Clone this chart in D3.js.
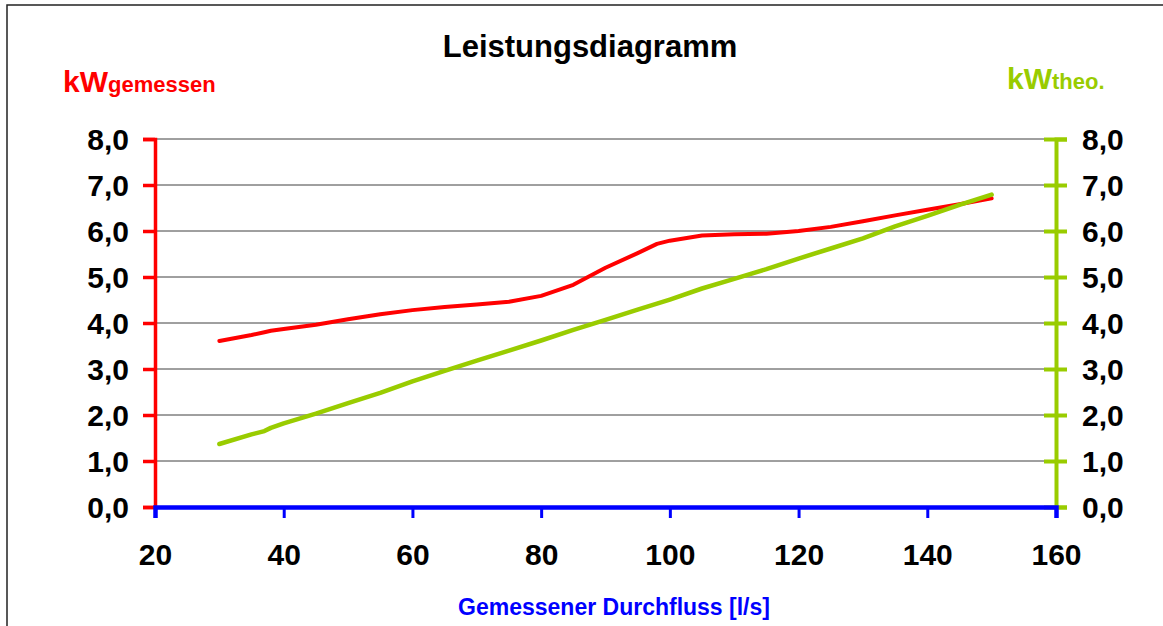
<!DOCTYPE html>
<html>
<head>
<meta charset="utf-8">
<script src="https://cdn.jsdelivr.net/npm/d3@7"></script>
<style>
  body { margin: 0; background: #fff; }
  text { font-family: "Liberation Sans", Arial, sans-serif; font-weight: bold; }
</style>
</head>
<body>
<script>
// Durchfluss in l/s
var durchfluss = [30, 35, 37, 38, 40, 45, 50, 55, 60, 65, 70, 75, 80, 85, 90, 95, 98, 100, 105, 110, 115, 120, 125, 130, 135, 140, 145, 150];
// kW gemessen (rot)
var kwGemessen = [3.61, 3.74, 3.80, 3.83, 3.87, 3.96, 4.08, 4.19, 4.28, 4.35, 4.40, 4.46, 4.59, 4.83, 5.20, 5.52, 5.72, 5.79, 5.90, 5.93, 5.94, 6.00, 6.09, 6.21, 6.34, 6.46, 6.58, 6.71];
// kW theoretisch (gruen)
var kwTheo = [1.37, 1.58, 1.65, 1.72, 1.82, 2.03, 2.26, 2.48, 2.73, 2.96, 3.18, 3.40, 3.62, 3.85, 4.07, 4.29, 4.42, 4.51, 4.75, 4.96, 5.17, 5.40, 5.62, 5.84, 6.10, 6.33, 6.57, 6.79];
var xTicks = [20, 40, 60, 80, 100, 120, 140, 160];
var yTicks = [0, 1, 2, 3, 4, 5, 6, 7, 8];

var width = 1163, height = 626;
var rot = "#ff0000", gruen = "#99cc00", blau = "#0000ff";

var svg = d3.select("body").append("svg")
	.attr("width", width)
	.attr("height", height);

// Rahmen
svg.append("rect")
	.attr("x", 7).attr("y", 5)
	.attr("width", 1200).attr("height", 700)
	.attr("fill", "none").attr("stroke", "#222").attr("stroke-width", 1.5);

var x = d3.scaleLinear().domain([20, 160]).range([155, 1056]);
var yL = d3.scaleLinear().domain([0, 8]).range([507, 139]);
var yR = d3.scaleLinear().domain([0, 8]).range([507, 139]);

var fmt = function(d) { return d3.format(".1f")(d).replace(".", ","); };

// Gitterlinien
svg.append("g").selectAll("line")
	.data(yTicks.slice(1))
	.join("line")
	.attr("x1", x(20)).attr("x2", x(160))
	.attr("y1", d => yL(d)).attr("y2", d => yL(d))
	.attr("stroke", "#404040").attr("stroke-width", 1);

// linke Achse (rot)
var axL = svg.append("g")
	.attr("transform", "translate(" + x(20) + ",0)")
	.call(d3.axisLeft(yL).tickValues(yTicks).tickFormat(fmt).tickSize(12).tickPadding(14));
axL.select(".domain").attr("stroke", rot).attr("stroke-width", 3.5);
axL.selectAll(".tick line").attr("stroke", rot).attr("stroke-width", 3.5);
axL.selectAll(".tick text").attr("fill", "#000").style("font-size", "30px").attr("dy", "0.36em");

// rechte Achse (gruen), Teilstriche kreuzen die Achse
var axR = svg.append("g")
	.attr("transform", "translate(" + x(160) + ",0)")
	.call(d3.axisRight(yR).tickValues(yTicks).tickFormat(fmt).tickSize(11).tickPadding(15));
axR.select(".domain").attr("stroke", gruen).attr("stroke-width", 4);
axR.selectAll(".tick line").attr("x1", -12).attr("stroke", gruen).attr("stroke-width", 4);
axR.selectAll(".tick text").attr("fill", "#000").style("font-size", "30px").attr("dy", "0.36em");

// x-Achse (blau)
var axX = svg.append("g")
	.attr("transform", "translate(0," + yL(0) + ")")
	.call(d3.axisBottom(x).tickValues(xTicks).tickFormat(d3.format("d")).tickSize(11).tickPadding(26));
axX.select(".domain").attr("stroke", blau).attr("stroke-width", 4.5);
axX.selectAll(".tick line").attr("stroke", blau).attr("stroke-width", 3);
axX.selectAll(".tick text").attr("fill", "#000").style("font-size", "30px");

// Linien
var lineL = d3.line().x((d, i) => x(durchfluss[i])).y(d => yL(d));
var lineR = d3.line().x((d, i) => x(durchfluss[i])).y(d => yR(d));

svg.append("path").datum(kwGemessen)
	.attr("d", lineL)
	.attr("fill", "none").attr("stroke", rot).attr("stroke-width", 4)
	.attr("stroke-linejoin", "round").attr("stroke-linecap", "round");

svg.append("path").datum(kwTheo)
	.attr("d", lineR)
	.attr("fill", "none").attr("stroke", gruen).attr("stroke-width", 4.5)
	.attr("stroke-linejoin", "round").attr("stroke-linecap", "round");

// Titel
svg.append("text")
	.attr("x", 590).attr("y", 57)
	.attr("text-anchor", "middle")
	.style("font-size", "31px")
	.text("Leistungsdiagramm");

// Achsentitel
var tL = svg.append("text").attr("x", 63).attr("y", 92).attr("fill", rot).style("font-size", "30px");
tL.append("tspan").text("kW");
tL.append("tspan").style("font-size", "22px").text("gemessen");

var tR = svg.append("text").attr("x", 1007).attr("y", 89).attr("fill", gruen).style("font-size", "30px");
tR.append("tspan").text("kW");
tR.append("tspan").style("font-size", "22px").text("theo.");

svg.append("text")
	.attr("x", 614).attr("y", 615)
	.attr("text-anchor", "middle")
	.attr("fill", blau)
	.style("font-size", "23px")
	.text("Gemessener Durchfluss [l/s]");
</script>
</body>
</html>
